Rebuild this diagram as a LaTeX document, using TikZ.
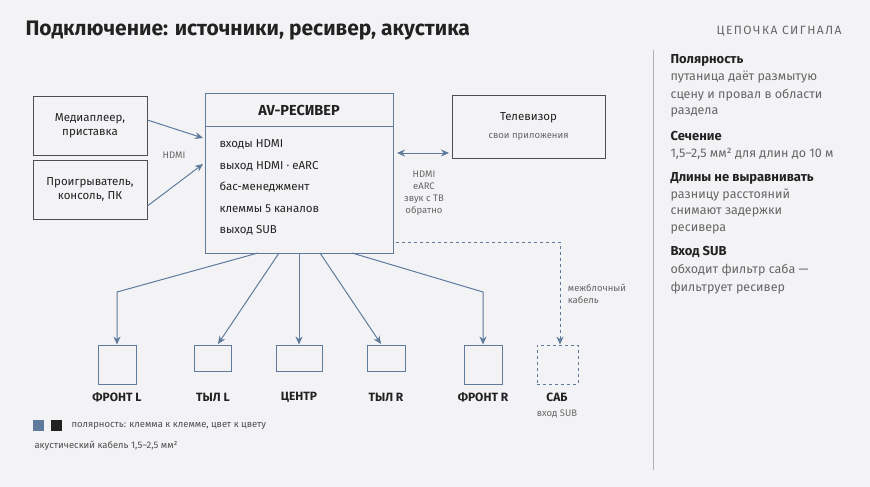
\documentclass[tikz,border=0pt]{standalone}
\usepackage{fontspec}
\setmainfont{Fira Sans}
\usetikzlibrary{arrows.meta}
\definecolor{bgc}{HTML}{F3F3F6}
\definecolor{ink}{HTML}{222222}
\definecolor{wire}{HTML}{5F7A9A}
\definecolor{soft}{HTML}{666666}
\begin{document}
\begin{tikzpicture}[x=1pt,y=-1pt,
   box/.style={draw=ink!80, line width=0.8pt, inner sep=0pt},
   spk/.style={draw=wire, line width=0.9pt, inner sep=0pt},
   cable/.style={draw=wire, line width=1pt, -{Stealth[length=8pt,width=7pt]}},
   txt/.style={font=\fontsize{11.5}{14}\selectfont, text=ink},
   small/.style={font=\fontsize{9.5}{12}\selectfont, text=soft},
   spklabel/.style={font=\fontsize{12}{14}\selectfont\bfseries, text=ink},
   head/.style={font=\fontsize{13}{15}\selectfont\bfseries, text=ink, anchor=west},
   body/.style={font=\fontsize{12.5}{15}\selectfont, text=soft, anchor=west}]
\fill[bgc] (0,0) rectangle (870,487);
% title and side panel
\node[anchor=west, font=\fontsize{21}{24}\selectfont\bfseries, text=ink] (title) at (22,31) {Подключение: источники, ресивер, акустика};
\node[anchor=east, font=\fontsize{12}{14}\selectfont, text=soft] (chain) at (845,31) {\addfontfeature{LetterSpace=12}ЦЕПОЧКА СИГНАЛА};
\draw[soft!50, line width=0.6pt] (653,50) -- (653,470);
\node[head] (h1) at (667,60) {Полярность};
\node[body] at (667,77) {путаница даёт размытую};
\node[body] at (667,95) {сцену и провал в области};
\node[body] at (667,112) {раздела};
\node[head] (h2) at (667,136) {Сечение};
\node[body] at (667,154) {1,5–2,5 мм² для длин до 10 м};
\node[head] (h3) at (667,178) {Длины не выравнивать};
\node[body] at (667,195) {разницу расстояний};
\node[body] at (667,212) {снимают задержки};
\node[body] at (667,229) {ресивера};
\node[head] (h4) at (667,252) {Вход SUB};
\node[body] at (667,270) {обходит фильтр саба —};
\node[body] at (667,288) {фильтрует ресивер};
% sources
\node[box, minimum width=114pt, minimum height=59pt, align=center, txt] (media) at (90,125.5) {Медиаплеер,\\приставка};
\node[box, minimum width=114pt, minimum height=59pt, align=center, txt] (player) at (90,189.5) {Проигрыватель,\\консоль, ПК};
% receiver
\node[draw=wire, line width=0.9pt, minimum width=188pt, minimum height=160pt, inner sep=0pt] (rcv) at (299,173) {};
\draw[wire, line width=0.8pt] (205,126) -- (393,126);
\node[font=\fontsize{14.5}{16}\selectfont\bfseries, text=ink] (rcvtitle) at (299,110) {AV-РЕСИВЕР};
\foreach \t [count=\i] in {входы HDMI, выход HDMI · eARC, бас-менеджмент, клеммы 5 каналов, выход SUB}
   \node[txt, anchor=west] (feat\i) at (216,123+21.5*\i) {\t};
% tv
\node[box, minimum width=153pt, minimum height=63pt] (tv) at (528.5,126.5) {};
\node[txt] (tvname) at (528.5,118) {Телевизор};
\node[small] (tvapps) at (528.5,137) {свои приложения};
% connectors
\coordinate (in1) at (203,138);
\coordinate (in2) at (203,164);
\draw[cable] (media.east |- 0,120) -- (in1);
\draw[cable] (player.east |- 0,206) -- (in2);
\node[small] (hdmi) at (174,155) {HDMI};
\draw[wire, line width=1pt, {Stealth[length=8pt,width=7pt]}-{Stealth[length=8pt,width=7pt]}] (397,153) -- (449,153);
\node[small, align=center] (earc) at (424,193) {HDMI\\eARC\\звук с ТВ\\обратно};
% speakers
\node[spk, minimum width=38pt, minimum height=39pt] (fl) at (117,364.5) {};
\node[spk, minimum width=37pt, minimum height=26pt] (rl) at (212.5,358) {};
\node[spk, minimum width=46pt, minimum height=26pt] (c) at (299,358) {};
\node[spk, minimum width=38pt, minimum height=26pt] (rr) at (386,358) {};
\node[spk, minimum width=38pt, minimum height=39pt] (fr) at (483,364.5) {};
\node[spk, dashed, minimum width=41pt, minimum height=39pt] (sub) at (557.5,364.5) {};
\node[spklabel] at (117,397) {ФРОНТ L};
\node[spklabel] at (213,397) {ТЫЛ L};
\node[spklabel] at (299,397) {ЦЕНТР};
\node[spklabel] at (386,397) {ТЫЛ R};
\node[spklabel] at (483,397) {ФРОНТ R};
\node[spklabel] at (557,397) {САБ};
\node[small] at (557,414) {вход SUB};
\coordinate (kfl) at (117,292);
\coordinate (kfr) at (483,292);
\coordinate (ksub) at (560,242);
\draw[cable] (258,253) -- (kfl) -- (fl.north);
\draw[cable] (279,253) -- (218,344);
\draw[cable] (299,253) -- (c.north);
\draw[cable] (320,253) -- (381,344);
\draw[cable] (352,253) -- (kfr) -- (fr.north);
\draw[cable, dashed] (396,242) -- (ksub) -- (sub.north -| ksub);
\node[small, align=left] (mk) at (597,294) {межблочный\\кабель};
% legend
\fill[wire] (33,420) rectangle (44,431);
\fill[ink] (51,420) rectangle (62,431);
\node[small, anchor=west, text=ink!80] (pol) at (68,426) {полярность: клемма к клемме, цвет к цвету};
\node[small, anchor=west, text=ink!80] (cab) at (31,446) {акустический кабель 1,5–2,5 мм²};
\end{tikzpicture}
\end{document}
